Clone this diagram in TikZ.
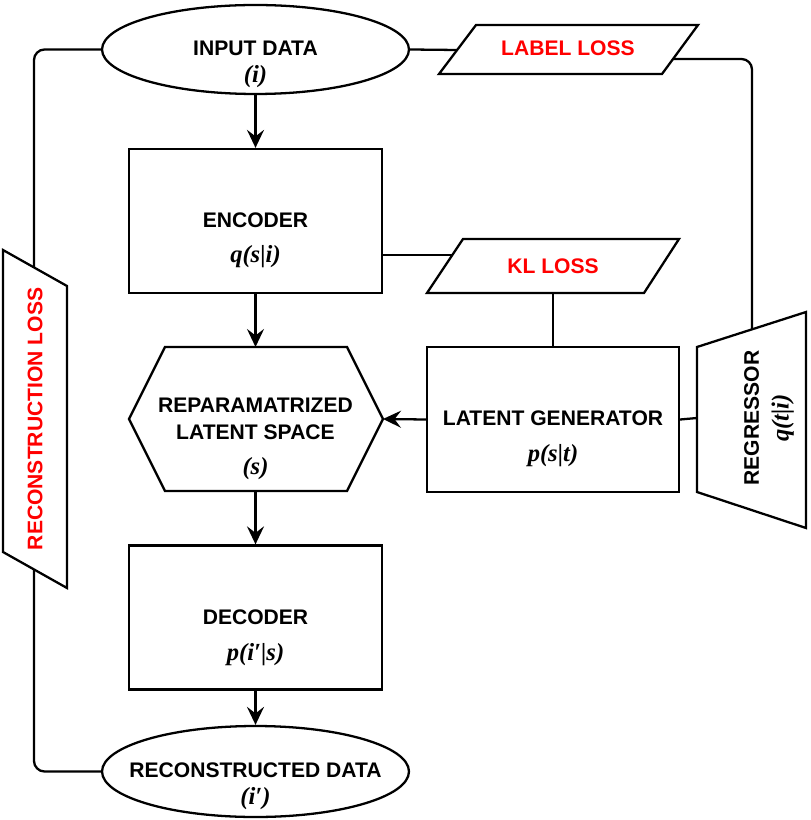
\documentclass[tikz,border=0pt]{standalone}
\usepackage{fontspec}
\setmainfont{Liberation Sans}
\newfontfamily\formulafont{Liberation Serif}
\usetikzlibrary{positioning,calc,shapes.geometric,arrows.meta}
\definecolor{LossRed}{RGB}{255,0,0}

\tikzset{
  block/.style={draw,line width=1.3pt,minimum width=5.06cm,minimum height=2.88cm},
  datanode/.style={draw,ellipse,line width=1.3pt,minimum width=6.14cm},
  shapeline/.style={line width=1.3pt,line join=miter},
  caption/.style={font=\bfseries\fontsize{12}{14}\selectfont,inner sep=0pt},
  losstext/.style={caption,text=LossRed},
  formula/.style={font=\formulafont\bfseries\itshape\fontsize{14}{16}\selectfont,inner sep=0pt},
  flow/.style={line width=1.3pt,-{Stealth[length=3.6mm,width=3.4mm,inset=1.3mm]}},
  link/.style={line width=1.3pt,rounded corners=6pt}
}

\begin{document}
\begin{tikzpicture}[x=0.02cm,y=-0.02cm]
\useasboundingbox (0,0) rectangle (810,820);

% main column
\node[datanode,minimum height=1.78cm] (input) at (255.5,49.5) {};
\node[caption] (inputname) at (255.5,48) {INPUT DATA};
\node[formula] (inputvar) at (255.5,77) {(i)};

\node[block] (encoder) at (255.5,221) {};
\node[caption] (encodername) at (255.5,220) {ENCODER};
\node[formula] (encodervar) at (255.5,257) {q(s|i)};

\coordinate (hexW) at (129,419);
\coordinate (hexE) at (383,419);
\coordinate (hexN) at (255.5,347);
\coordinate (hexS) at (255.5,491);
\draw[shapeline] (hexW) -- (165,347) -- (347,347) -- (hexE) -- (347,491) -- (165,491) -- cycle;
\node[caption,align=center] (latentname) at (255.5,419) {REPARAMATRIZED\\[1pt]LATENT SPACE};
\node[formula] (latentvar) at (255.5,469) {(s)};

\node[block] (decoder) at (255.5,617.5) {};
\node[caption] (decodername) at (255.5,617) {DECODER};
\node[formula] (decodervar) at (255.5,655) {p(i′|s)};

\node[datanode,minimum height=1.82cm] (recon) at (255.5,771.5) {};
\node[caption] (reconname) at (255.5,770) {RECONSTRUCTED DATA};
\node[formula] (reconvar) at (255.5,799) {(i′)};

% right side
\node[block,minimum width=5.04cm,minimum height=2.9cm] (generator) at (553,419.5) {};
\node[caption] (generatorname) at (553,418) {LATENT GENERATOR};
\node[formula] (generatorvar) at (553,456) {p(s|t)};

\draw[shapeline] (463,239) -- (679,239) -- (644,293) -- (427,293) -- cycle;
\node[losstext] (kl) at (553,266) {KL LOSS};
\coordinate (klW) at (452,255);
\coordinate (klS) at (553,293);

\draw[shapeline] (476,25) -- (698,25) -- (662,74) -- (439,74) -- cycle;
\node[losstext] (label) at (568,48) {LABEL LOSS};
\coordinate (labelW) at (457,50);
\coordinate (labelE) at (673,59);

\draw[shapeline] (697,347) -- (806,312) -- (806,528) -- (697,492) -- cycle;
\node[caption,rotate=90,align=center] (regressor) at (769,418) {REGRESSOR\\[3pt]{\formulafont\itshape\fontsize{14}{16}\selectfont q(t|i)}};
\coordinate (regW) at (697,418);
\coordinate (regN) at (752,329);

% left side
\draw[shapeline] (3,250) -- (67,286) -- (67,588) -- (3,552) -- cycle;
\node[losstext,rotate=90] (reconloss) at (35,419) {RECONSTRUCTION LOSS};
\coordinate (rlN) at (34,268);
\coordinate (rlS) at (34,570);

% connectors
\draw[flow] (input.south) -- (encoder.north);
\draw[flow] (encoder.south) -- (hexN);
\draw[flow] (hexS) -- (decoder.north);
\draw[flow] (decoder.south) -- (recon.north);
\draw[flow] (generator.west) -- (hexE);
\draw[line width=1.3pt] (generator.east) -- (regW);
\draw[line width=1.3pt] (klS) -- (generator.north);
\draw[line width=1.3pt] (encoder.east |- klW) -- (klW);
\draw[line width=1.3pt] (input.east) -- (labelW);
\draw[link] (labelE) -- (regN |- labelE) -- (regN);
\draw[link] (input.west) -- (rlN |- input.west) -- (rlN);
\draw[link] (rlS) -- (rlS |- recon.west) -- (recon.west);
\end{tikzpicture}
\end{document}
